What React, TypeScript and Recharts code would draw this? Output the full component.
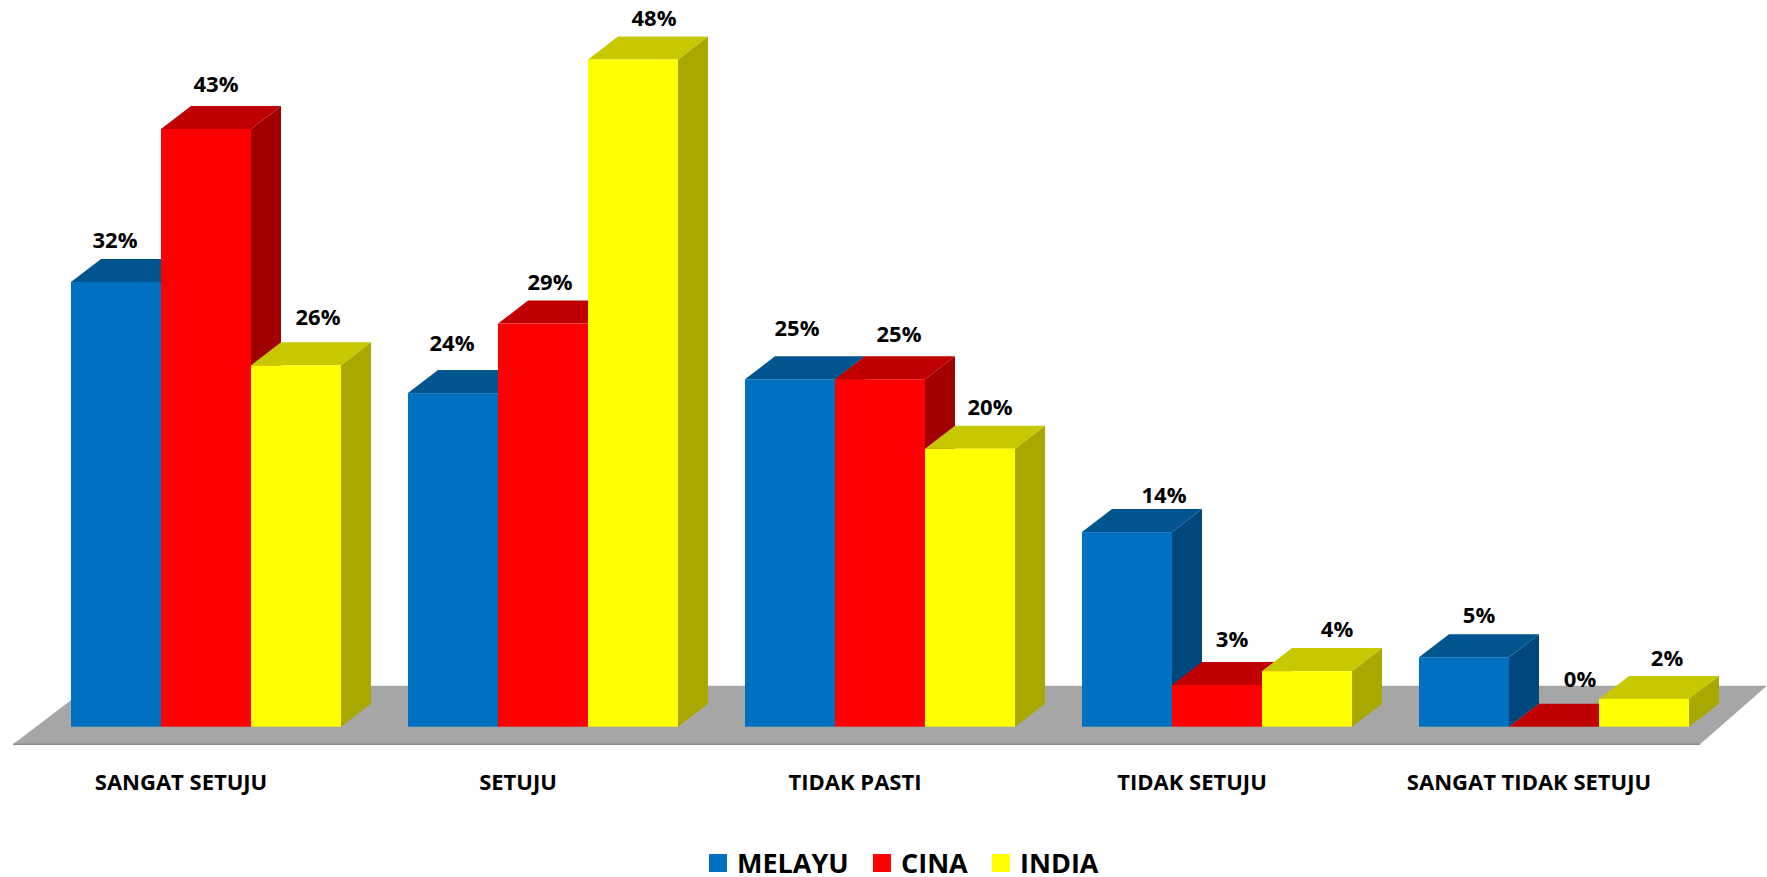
import * as React from 'react';
import { BarChart, Bar, XAxis, YAxis, Legend, LabelList, Customized, usePlotArea } from 'recharts';

const categories = ['SANGAT SETUJU', 'SETUJU', 'TIDAK PASTI', 'TIDAK SETUJU', 'SANGAT TIDAK SETUJU'];
const melayu = [32, 24, 25, 14, 5];
const cina = [43, 29, 25, 3, 0];
const india = [26, 48, 20, 4, 2];

const data = categories.map((name, i) => ({ name, melayu: melayu[i], cina: cina[i], india: india[i] }));

// hand placed labels in the original, so every label has its own nudge
const melayuNudge = [[-1, -43], [-1, -51], [7, -52], [37, -38], [15, -43]];
const cinaNudge = [[10, -46], [7, -43], [19, -46], [15, -47], [26, -49]];
const indiaNudge = [[22, -49], [21, -43], [20, -43], [30, -43], [23, -42]];

const DEPTH_X = 30;
const DEPTH_Y = 23;
const FONT = '"Open Sans", "Noto Sans", sans-serif';

const makeBox = (topColor: string, sideColor: string) => (props: any) => {
    const { x, y, width, height, fill } = props;
    const r = x + width;
    const b = y + height;
    return (
        <g>
            <polygon points={`${r},${y} ${r + DEPTH_X},${y - DEPTH_Y} ${r + DEPTH_X},${b - DEPTH_Y} ${r},${b}`} fill={sideColor} />
            <polygon points={`${x},${y} ${x + DEPTH_X},${y - DEPTH_Y} ${r + DEPTH_X},${y - DEPTH_Y} ${r},${y}`} fill={topColor} />
            <rect x={x} y={y} width={width} height={height} fill={fill} />
        </g>
    );
};

const makeLabel = (nudge: number[][]) => (props: any) => {
    const { x, y, width, value, index } = props;
    return (
        <text
            x={x + width / 2 + nudge[index][0]}
            y={y + nudge[index][1]}
            textAnchor="middle"
            dominantBaseline="central"
            fontFamily={FONT}
            fontWeight={700}
            fontSize={22}
            fill="#000"
        >
            {value}%
        </text>
    );
};

// grey slab under the bars, placed from the plot area
const Floor = () => {
    const plot = usePlotArea();
    if (!plot) return null;
    const base = plot.y + plot.height;
    const left = plot.x - 24.5;
    const right = plot.x + plot.width - 22.5;
    const front = base + 17.5;
    const back = base - 41;
    return (
        <g>
            <polygon points={`${left},${front} ${left + 77},${back} ${right + 67},${back} ${right},${front}`} fill="#a6a6a6" />
            <line x1={left} y1={front} x2={right} y2={front} stroke="#8c8c8c" strokeWidth={1.5} />
        </g>
    );
};

const legendLeft = [709, 873, 992];

const LegendRow = (props: any) => (
    <div style={{ position: 'relative', height: 28 }}>
        {props.payload.map((item: any, i: number) => (
            <div key={item.value} style={{ position: 'absolute', left: legendLeft[i], top: 0, display: 'flex', alignItems: 'center', height: 28 }}>
                <div style={{ width: 18, height: 18, background: item.color, marginRight: 10 }} />
                <span style={{ fontFamily: FONT, fontWeight: 700, fontSize: 27, color: '#000', lineHeight: '28px' }}>{item.value}</span>
            </div>
        ))}
    </div>
);

export default function App() {
    return (
        <div style={{ position: 'absolute', left: 0, top: 0 }}>
            <BarChart
                width={1767}
                height={877}
                data={data}
                barGap={0}
                barCategoryGap={33.5}
                margin={{ top: 31.7, right: 44.5, bottom: 72.3, left: 37.5 }}
            >
                <Customized component={Floor} />
                <XAxis
                    dataKey="name"
                    axisLine={false}
                    tickLine={false}
                    interval={0}
                    height={50}
                    dx={-25}
                    dy={40}
                    tick={{ fontFamily: FONT, fontWeight: 700, fontSize: 22, fill: '#000' }}
                />
                <YAxis hide domain={[0, 50]} />
                <Legend
                    content={<LegendRow />}
                    itemSorter={null}
                    wrapperStyle={{ position: 'absolute', left: 0, top: 849, width: 1767, height: 28 }}
                />
                <Bar dataKey="melayu" name="MELAYU" fill="#0070c0" isAnimationActive={false} shape={makeBox('#00558f', '#00477d')}>
                    <LabelList dataKey="melayu" content={makeLabel(melayuNudge)} />
                </Bar>
                <Bar dataKey="cina" name="CINA" fill="#ff0000" isAnimationActive={false} shape={makeBox('#c00000', '#a00000')}>
                    <LabelList dataKey="cina" content={makeLabel(cinaNudge)} />
                </Bar>
                <Bar dataKey="india" name="INDIA" fill="#ffff00" isAnimationActive={false} shape={makeBox('#c8c800', '#a8a800')}>
                    <LabelList dataKey="india" content={makeLabel(indiaNudge)} />
                </Bar>
            </BarChart>
        </div>
    );
}
